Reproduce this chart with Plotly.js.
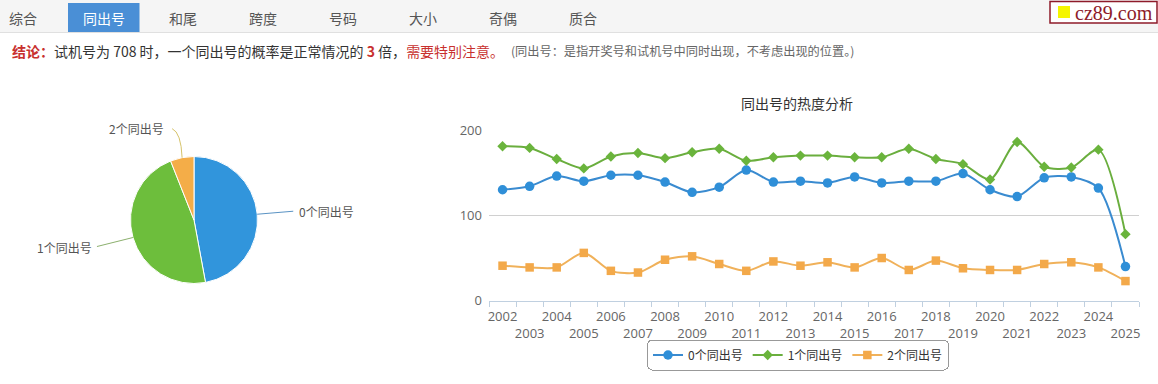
<!DOCTYPE html>
<html>
<head>
<meta charset="utf-8">
<script src="https://cdn.plot.ly/plotly-3.0.1.min.js"></script>
<style>
html,body{margin:0;padding:0;background:#fff;}
#chart{width:1158px;height:384px;}
</style>
</head>
<body>
<div id="chart"></div>
<script>
// ---------------- data ----------------
const years = ['2002','2003','2004','2005','2006','2007','2008','2009','2010','2011','2012','2013',
               '2014','2015','2016','2017','2018','2019','2020','2021','2022','2023','2024','2025'];
const zeroSame = [130,134,146,140,147,147,139,127,133,153,139,140,138,145,138,140,140,149,130,122,144,145,132,40];
const oneSame  = [181,179,166,155,169,173,167,174,178,164,168,170,170,168,168,178,166,160,142,186,157,156,177,78];
const twoSame  = [41,39,39,56,35,33,48,52,43,35,46,41,45,39,50,36,47,38,36,36,43,45,39,23];
const seriesNames = ['0个同出号','1个同出号','2个同出号'];
const pieLabels = ['0个同出号','1个同出号','2个同出号'];
const pieValues = [47.1, 46.9, 6.0];
const tabs = ['综合','同出号','和尾','跨度','号码','大小','奇偶','质合'];
const activeTab = '同出号';
const yTicks = [0,100,200];
const chartTitle = '同出号的热度分析';
const conclusionParts = {lead:'结论：', a:'试机号为 708 时，一个同出号的概率是正常情况的 ', times:'3', b:' 倍，', warn:'需要特别注意。'};
const note = '(同出号：是指开奖号和试机号中同时出现，不考虑出现的位置。)';
const brand = 'cz89.com';

// ---------------- layout helpers ----------------
const W = 1158, H = 384;
const px = x => x / W;
const py = y => 1 - y / H;
const FONT = "'Open Sans', 'Noto Sans CJK SC', sans-serif";
const CJK = "'Noto Sans CJK SC', 'Open Sans', sans-serif";
const colors = ['#2f8fd8', '#6ab43c', '#f3a94a'];
const pieColors = ['#3195dc', '#6dbe3c', '#f4ad48'];
const lineColors = ['#3a8bd0', '#6aae3e', '#f0b15a'];
const symbols = ['circle', 'diamond', 'square'];
const msizes = [9.5, 8, 8.5];

// ---------------- traces ----------------
const ySeries = [zeroSame, oneSame, twoSame];
const traces = ySeries.map((ys, i) => ({
  type: 'scatter', mode: 'lines+markers', name: seriesNames[i],
  x: years, y: ys, xaxis: 'x', yaxis: 'y', cliponaxis: false,
  line: {color: lineColors[i], width: 2, shape: 'spline', smoothing: 0.8},
  marker: {color: colors[i], symbol: symbols[i], size: msizes[i]}
}));

// pie
const pcx = 194, pcy = 220, pr = 63.5;
traces.push({
  type: 'pie', labels: pieLabels, values: pieValues, sort: false, direction: 'clockwise', rotation: 0,
  textinfo: 'none', hoverinfo: 'label+percent', showlegend: false,
  marker: {colors: pieColors, line: {color: '#ffffff', width: 1}},
  domain: {x: [px(pcx - pr), px(pcx + pr)], y: [py(pcy + pr), py(pcy - pr)]}
});

// ---------------- shapes & annotations ----------------
const shapes = [];
const annotations = [];

// tab bar
shapes.push({type:'rect', xref:'paper', yref:'paper', x0:0, x1:1, y0:py(32), y1:py(0), fillcolor:'#f5f5f5', line:{width:0}, layer:'below'});
shapes.push({type:'line', xref:'paper', yref:'paper', x0:0, x1:1, y0:py(32.5), y1:py(32.5), line:{color:'#e0e0e0', width:1}});
const tabX = [23, 104, 183, 263, 343, 423, 503, 583];
tabs.forEach((t, i) => {
  const act = t === activeTab;
  if (act) shapes.push({type:'rect', xref:'paper', yref:'paper', x0:px(68), x1:px(139.5), y0:py(32), y1:py(3), fillcolor:'#4a8fd6', line:{width:0}});
  annotations.push({xref:'paper', yref:'paper', x:px(tabX[i]), y:py(18), text:t, showarrow:false, xanchor:'center', yanchor:'middle',
    font:{family:CJK, size:14, color: act ? '#ffffff' : '#555555'}});
});

// brand box
shapes.push({type:'rect', xref:'paper', yref:'paper', x0:px(1050), x1:px(1157), y0:py(23), y1:py(1.5), fillcolor:'#ffffff', line:{color:'#8e1b2a', width:1.5}});
shapes.push({type:'rect', xref:'paper', yref:'paper', x0:px(1058), x1:px(1070), y0:py(18), y1:py(6), fillcolor:'#f5f500', line:{width:0}});
annotations.push({xref:'paper', yref:'paper', x:px(1073), y:py(12.5), text:brand, showarrow:false, xanchor:'left', yanchor:'middle',
  font:{family:"'Liberation Serif', 'DejaVu Serif', serif", size:20, color:'#8e1b2a'}});

// conclusion line
annotations.push({xref:'paper', yref:'paper', x:px(10), y:py(51), showarrow:false, xanchor:'left', yanchor:'middle',
  font:{family:CJK, size:14, color:'#333333'},
  text: '<span style="color:#c8302e;font-weight:bold">' + conclusionParts.lead + '</span>' + conclusionParts.a +
        '<span style="color:#c8302e;font-weight:bold">' + conclusionParts.times + '</span>' + conclusionParts.b +
        '<span style="color:#c8302e">' + conclusionParts.warn + '</span>'});
annotations.push({xref:'paper', yref:'paper', x:px(509), y:py(51), showarrow:false, xanchor:'left', yanchor:'middle',
  font:{family:CJK, size:12.2, color:'#666666'}, text: note});

// pie leader lines + labels (anchor points derived from the pie values)
const total = pieValues.reduce((a, b) => a + b, 0);
let acc = 0;
const mids = pieValues.map(v => { const m = (acc + v / 2) / total; acc += v; return m; });
const edge = m => { const a = m * 2 * Math.PI; return [pcx + pr * Math.sin(a), pcy - pr * Math.cos(a)]; };
const e0 = edge(mids[0]), e1 = edge(mids[1]), e2 = edge(mids[2]);
const lblFont = {family:CJK, size:12, color:'#555555'};
// 0
shapes.push({type:'path', xref:'paper', yref:'paper', path:`M ${px(e0[0])} ${py(e0[1])} L ${px(e0[0] + 36)} ${py(e0[1] - 3)}`, line:{color:'#5a93c4', width:1}});
annotations.push({xref:'paper', yref:'paper', x:px(e0[0] + 40), y:py(e0[1] - 3), text:pieLabels[0], showarrow:false, xanchor:'left', yanchor:'middle', font:lblFont});
// 1
shapes.push({type:'path', xref:'paper', yref:'paper', path:`M ${px(e1[0])} ${py(e1[1])} L ${px(e1[0] - 36)} ${py(e1[1] + 9)}`, line:{color:'#8cb06e', width:1}});
annotations.push({xref:'paper', yref:'paper', x:px(e1[0] - 39), y:py(e1[1] + 10), text:pieLabels[1], showarrow:false, xanchor:'right', yanchor:'middle', font:lblFont});
// 2
shapes.push({type:'path', xref:'paper', yref:'paper',
  path:`M ${px(e2[0])} ${py(e2[1])} Q ${px(e2[0] - 1)} ${py(e2[1] - 25)} ${px(e2[0] - 10)} ${py(e2[1] - 29)}`, line:{color:'#d6c36a', width:1}});
annotations.push({xref:'paper', yref:'paper', x:px(e2[0] - 16), y:py(e2[1] - 29), text:pieLabels[2], showarrow:false, xanchor:'right', yanchor:'middle', font:lblFont});

// x tick labels (alternating rows)
const tickText = years.map((y, i) => i % 2 === 0 ? y : '<br>' + y);

const layout = {
  width: W, height: H, margin: {l:0, r:0, t:0, b:0},
  paper_bgcolor: '#ffffff', plot_bgcolor: 'rgba(0,0,0,0)',
  font: {family: FONT, color: '#666666'},
  title: {text: chartTitle, x: px(797), y: py(104), xanchor: 'center', yanchor: 'middle', xref: 'paper', yref: 'paper',
          font: {family: CJK, size: 14, color: '#333333'}},
  xaxis: {
    domain: [px(489), px(1139)], type: 'category', range: [-0.5, 23.5], fixedrange: true,
    tickmode: 'array', tickvals: years, ticktext: tickText, tickson: 'boundaries',
    ticks: 'outside', ticklen: 5, tickcolor: '#c0d0e0', tickwidth: 1, ticklabelstandoff: 4,
    showline: true, linecolor: '#c0d0e0', linewidth: 1, showgrid: false, zeroline: false,
    tickfont: {family: FONT, size: 13, color: '#666666'}, tickangle: 0
  },
  yaxis: {
    domain: [py(300.7), py(130)], range: [0, 200], fixedrange: true,
    tickmode: 'array', tickvals: yTicks, ticktext: yTicks.map(String),
    showgrid: true, gridcolor: '#d0d0d0', gridwidth: 1, zeroline: false, showline: false,
    ticks: '', ticklabelstandoff: 6,
    tickfont: {family: FONT, size: 13, color: '#666666'}
  },
  showlegend: true,
  legend: {orientation: 'h', x: px(798), xanchor: 'center', y: py(355), yanchor: 'middle',
           font: {family: CJK, size: 12, color: '#333333'}, bgcolor: '#ffffff', bordercolor: '#999999', borderwidth: 1,
           itemwidth: 30, tracegroupgap: 0},
  shapes: shapes, annotations: annotations
};

Plotly.newPlot('chart', traces, layout, {displayModeBar: false, staticPlot: true}).then(() => {
  const bg = document.querySelector('.legend rect.bg');
  if (bg) { bg.setAttribute('rx', 5); bg.setAttribute('ry', 5); }
});
</script>
</body>
</html>
